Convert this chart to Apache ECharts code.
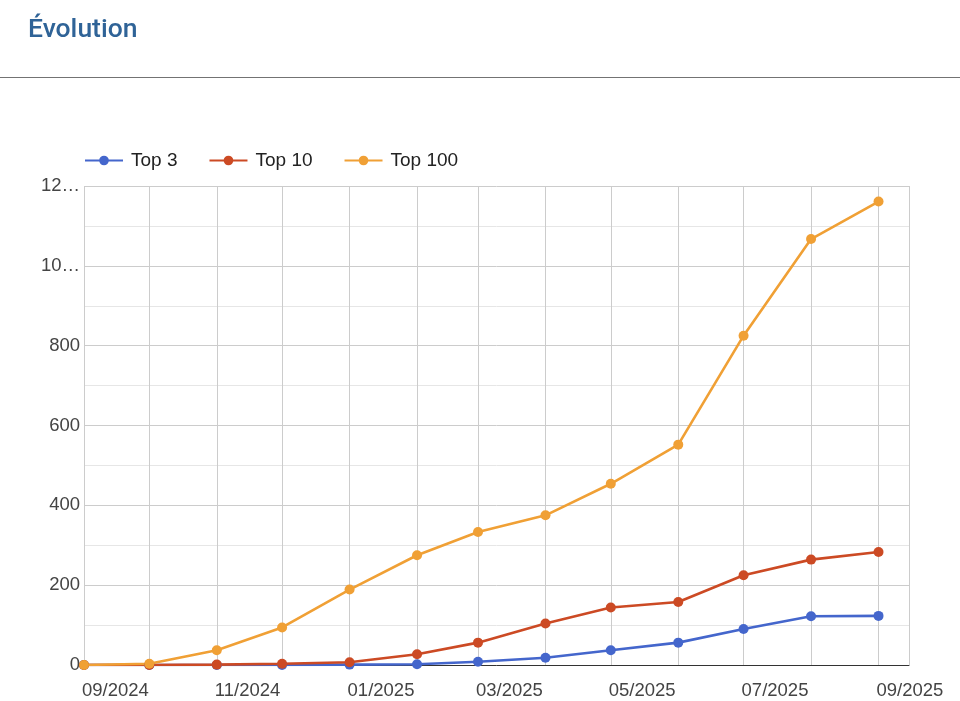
<!DOCTYPE html>
<html>
<head>
<meta charset="utf-8">
<script src="https://cdn.jsdelivr.net/npm/echarts@6/dist/echarts.min.js"></script>
<style>
html,body{margin:0;padding:0;background:#fff;}
#chart{width:960px;height:701px;}
</style>
</head>
<body>
<div id="chart"></div>
<script>
const months = ['2024-09','2024-10','2024-11','2024-12','2025-01','2025-02','2025-03','2025-04','2025-05','2025-06','2025-07','2025-08','2025-09'];
const seriesNames = ['Top 3','Top 10','Top 100'];
const top3   = [0,0,0,0,1,2,8,18,37,56,90,122,123];
const top10  = [0,0,1,3,7,27,56,104,144,158,225,264,283];
const top100 = [0,3,37,94,189,275,333,375,454,552,825,1067,1161];
const yTicks = [0,200,400,600,800,1000,1200];
const yLabels = ['0','200','400','600','800','10…','12…'];
const colors = ['#4466cc','#cc4a24','#f0a035'];

function toTime(m){ const p = m.split('-'); return new Date(+p[0], +p[1]-1, 1).getTime(); }
function pad(n){ return (n<10?'0':'')+n; }
function mk(vals){ return months.map((m,i)=>[toTime(m), vals[i]]); }

const chart = echarts.init(document.getElementById('chart'), null, {renderer:'canvas'});
const day = 86400000;
const option = {
  animation:false,
  color: colors,
  title:{
    text:'Évolution', left:23, top:12,
    textStyle:{fontFamily:'Roboto', fontWeight:500, fontSize:26.5, color:'#2f6397'}
  },
  graphic:[{type:'line', shape:{x1:0,y1:77.5,x2:960,y2:77.5}, style:{stroke:'#737373', lineWidth:1}}],
  legend:{
    left:79, top:146, itemWidth:38, itemHeight:12, itemGap:31,
    textStyle:{fontFamily:'Liberation Sans, Arial', fontSize:19, color:'#222', padding:[0,0,0,3]},
    data: seriesNames
  },
  grid:{left:84, right:51, top:186, bottom:36, containLabel:false},
  xAxis:{
    type:'time',
    min: toTime('2024-09') ,
    max: new Date(2025,8,15).getTime(),
    minInterval: 28*day, maxInterval: 31*day,
    splitNumber: 12,
    axisLine:{show:true, lineStyle:{color:'#333', width:1}},
    axisTick:{show:false},
    splitLine:{show:true, lineStyle:{color:'#cccccc', width:1}},
    axisLabel:{
      align:'left', margin:16, fontFamily:'Liberation Sans, Arial', fontSize:18.5, color:'#444',
      padding:[0,0,0,-2],
      showMaxLabel:false, hideOverlap:false,
      formatter:function(v){ const d=new Date(v); if(d.getDate()!==1) return ''; const m=d.getMonth()+1; return (m%2===1)? pad(m)+'/'+d.getFullYear() : ''; }
    }
  },
  yAxis:{
    type:'value', min:0, max:1200, interval:200,
    axisLine:{show:false}, axisTick:{show:false},
    splitLine:{show:true, lineStyle:{color:'#cccccc', width:1}},
    minorTick:{show:false, splitNumber:2},
    minorSplitLine:{show:true, lineStyle:{color:'#e6e6e6', width:1}},
    axisLabel:{
      margin:4, fontFamily:'Liberation Sans, Arial', fontSize:18.5, color:'#444',
      formatter:function(v){ const i=yTicks.indexOf(v); return i>=0 ? yLabels[i] : ''; }
    }
  },
  series:[
    {name:seriesNames[0], type:'line', data:mk(top3), symbol:'circle', symbolSize:10, lineStyle:{width:2.6}},
    {name:seriesNames[1], type:'line', data:mk(top10), symbol:'circle', symbolSize:10, lineStyle:{width:2.6}},
    {name:seriesNames[2], type:'line', data:mk(top100), symbol:'circle', symbolSize:10, lineStyle:{width:2.6}}
  ]
};
chart.setOption(option);
</script>
</body>
</html>
